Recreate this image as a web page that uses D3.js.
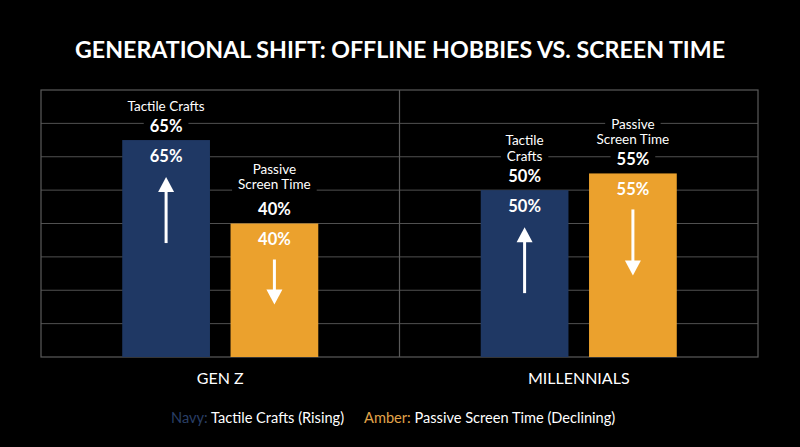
<!DOCTYPE html>
<html>
<head>
<meta charset="utf-8">
<script src="https://cdn.jsdelivr.net/npm/d3@7/dist/d3.min.js"></script>
<style>
  html, body { margin: 0; padding: 0; background: #000; }
  svg { display: block; font-family: "Lato", "Open Sans", sans-serif; }
</style>
</head>
<body>
<div id="chart"></div>
<script>
// data
var categories = ["GEN Z", "MILLENNIALS"];
var seriesNames = ["Tactile Crafts", "Passive Screen Time"];
var tactile = [65, 50];
var passive = [40, 55];
// label lines above each bar, per group: [tactile lines, passive lines]
var labelLines = [
  [["Tactile Crafts"], ["Passive", "Screen Time"]],
  [["Tactile", "Crafts"], ["Passive", "Screen Time"]]
];
var yTicks = [0, 10, 20, 30, 40, 50, 60, 70, 80];
var legendItems = [
  { key: "Navy:", text: " Tactile Crafts (Rising)" },
  { key: "Amber:", text: " Passive Screen Time (Declining)" }
];

var colors = { "Tactile Crafts": "#1f3864", "Passive Screen Time": "#eba12d" };
var keyColors = ["#2a3f66", "#e0a44a"];

var width = 800, height = 447;
var margin = { top: 90, right: 42, bottom: 90, left: 41 };

var svg = d3.select("#chart").append("svg")
    .attr("width", width)
    .attr("height", height);

svg.append("rect").attr("width", width).attr("height", height).attr("fill", "#000");

var x0 = d3.scaleBand().domain(categories).range([margin.left, width - margin.right]);
var x1 = d3.scaleBand().domain(seriesNames).range([0, x0.bandwidth()])
    .paddingInner(0.19).paddingOuter(0.75);
var y = d3.scaleLinear().domain([0, 80]).range([height - margin.bottom, margin.top]);

// title
svg.append("text")
    .attr("x", width / 2)
    .attr("y", 58)
    .attr("text-anchor", "middle")
    .attr("fill", "#fff")
    .attr("font-weight", "bold")
    .style("font-size", "23px")
    .attr("textLength", 650)
    .attr("lengthAdjust", "spacingAndGlyphs")
    .text("GENERATIONAL SHIFT: OFFLINE HOBBIES VS. SCREEN TIME");

// gridlines
svg.append("g")
    .selectAll("line")
    .data(yTicks.slice(1, -1))
    .enter().append("line")
    .attr("x1", margin.left).attr("x2", width - margin.right)
    .attr("y1", function(d) { return y(d); }).attr("y2", function(d) { return y(d); })
    .attr("stroke", "#505050").attr("stroke-width", 1);

// frame + divider
svg.append("rect")
    .attr("x", margin.left).attr("y", y(80))
    .attr("width", width - margin.right - margin.left)
    .attr("height", y(0) - y(80))
    .attr("fill", "none").attr("stroke", "#5a5a5a").attr("stroke-width", 1.2);
svg.append("line")
    .attr("x1", x0(categories[1])).attr("x2", x0(categories[1]))
    .attr("y1", y(80)).attr("y2", y(0))
    .attr("stroke", "#5a5a5a").attr("stroke-width", 1.2);

// build rows
var rows = [];
categories.forEach(function(c, i) {
  rows.push({ cat: c, gi: i, si: 0, series: seriesNames[0], value: tactile[i], dir: "up" });
  rows.push({ cat: c, gi: i, si: 1, series: seriesNames[1], value: passive[i], dir: "down" });
});

var barG = svg.append("g");
var labelG = svg.append("g");

rows.forEach(function(d) {
  var bx = x0(d.cat) + x1(d.series);
  var bw = x1.bandwidth();
  var cx = bx + bw / 2;
  var top = y(d.value);

  barG.append("rect")
    .attr("x", bx).attr("y", top)
    .attr("width", bw).attr("height", y(0) - top)
    .attr("fill", colors[d.series]);

  // labels above the bar, with a black backing so gridlines break
  var lines = labelLines[d.gi][d.si];
  var items = [];
  var valueY = top - 14;
  var firstY = valueY - 20 - (lines.length - 1) * 15.5;
  if (lines.length == 2 && d.gi == 0) firstY -= 5;
  lines.forEach(function(t, k) {
    items.push({ t: t, y: firstY + k * 15.5, size: 13.5, bold: false });
  });
  items.push({ t: d.value + "%", y: valueY, size: 16.5, bold: true });

  items.forEach(function(it) {
    var txt = labelG.append("text")
      .attr("x", cx).attr("y", it.y)
      .attr("dy", "0.35em")
      .attr("text-anchor", "middle")
      .attr("fill", "#fff")
      .attr("font-weight", it.bold ? "bold" : "normal")
      .style("font-size", it.size + "px")
      .text(it.t);
    var w = txt.node().getComputedTextLength();
    labelG.insert("rect", function() { return txt.node(); })
      .attr("x", cx - w / 2 - 6).attr("y", it.y - it.size * 0.5)
      .attr("width", w + 12).attr("height", it.size)
      .attr("fill", "#000");
  });

  // value inside the bar
  labelG.append("text")
    .attr("x", cx).attr("y", top + 16)
    .attr("dy", "0.35em")
    .attr("text-anchor", "middle")
    .attr("fill", "#fff")
    .attr("font-weight", "bold")
    .style("font-size", "16.5px")
    .text(d.value + "%");

  // arrow
  var len = (y(0) - top) < 150 ? 45 : 66;
  var a0, a1;
  if (d.dir == "up") { a0 = top + 103; a1 = top + 37; }
  else { a0 = top + 36; a1 = top + 36 + len; }
  var headDir = d.dir == "up" ? 1 : -1;
  labelG.append("line")
    .attr("x1", cx).attr("x2", cx)
    .attr("y1", a0).attr("y2", a1 + headDir * 10)
    .attr("stroke", "#fff").attr("stroke-width", 3);
  labelG.append("path")
    .attr("d", d3.line()([[cx, a1], [cx - 8, a1 + headDir * 15], [cx + 8, a1 + headDir * 15]]) + "Z")
    .attr("fill", "#fff");
});

// category labels
svg.append("g")
    .selectAll("text")
    .data(categories)
    .enter().append("text")
    .attr("x", function(d) { return x0(d) + x0.bandwidth() / 2; })
    .attr("y", 378)
    .attr("dy", "0.35em")
    .attr("text-anchor", "middle")
    .attr("fill", "#fff")
    .style("font-size", "16px")
    .text(function(d) { return d; });

// legend
var legend = svg.append("text")
    .attr("x", 171).attr("y", 418)
    .attr("dy", "0.35em")
    .style("font-size", "14.6px");
legendItems.forEach(function(it, i) {
  legend.append("tspan")
    .attr("fill", keyColors[i])
    .attr("dx", i == 0 ? 0 : 20)
    .text(it.key);
  legend.append("tspan")
    .attr("fill", "#fff")
    .text(it.text);
});
</script>
</body>
</html>
